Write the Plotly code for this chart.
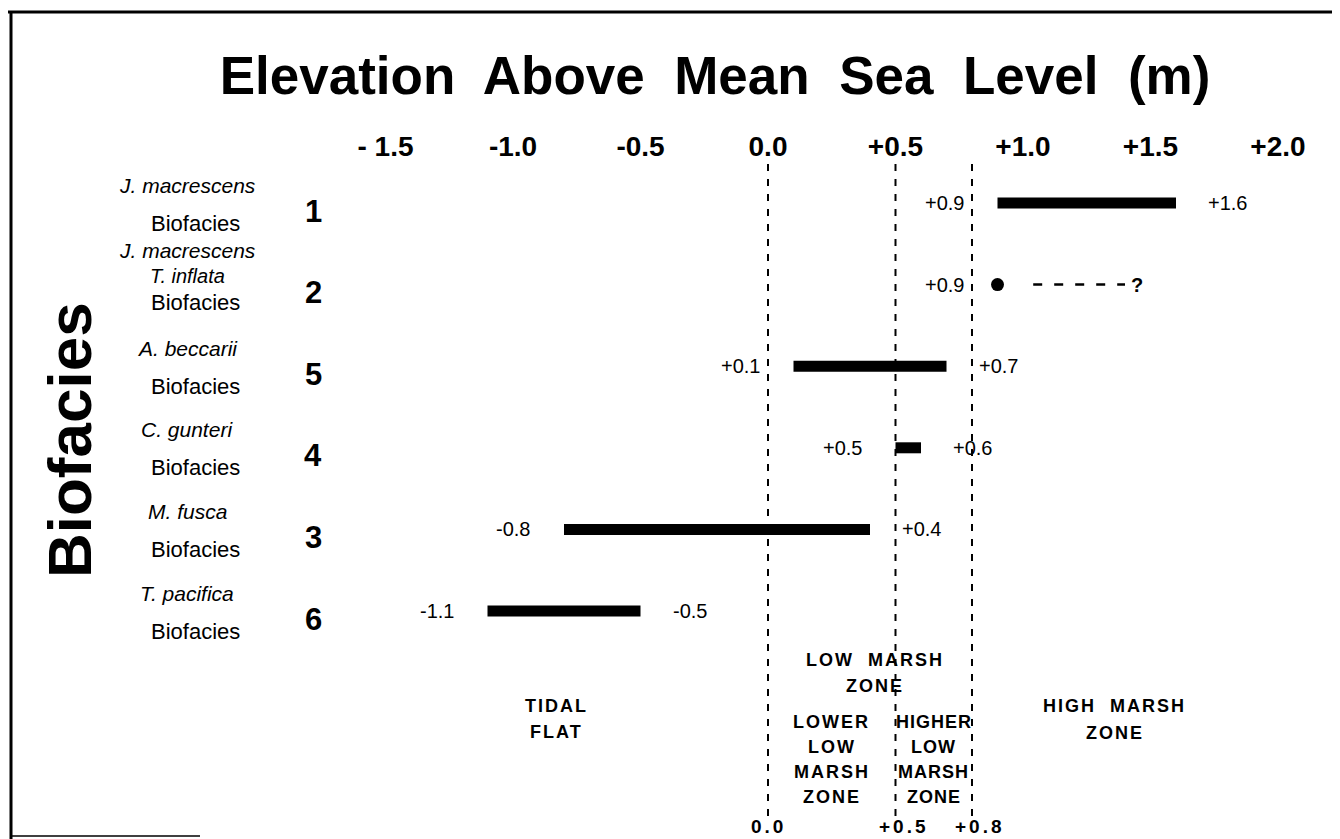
import plotly.graph_objects as go

# ---------------- data ----------------
row_numbers = ["1", "2", "5", "4", "3", "6"]
row_species = [["J. macrescens"], ["J. macrescens", "T. inflata"], ["A. beccarii"],
               ["C. gunteri"], ["M. fusca"], ["T. pacifica"]]
range_start = [0.9, 0.9, 0.1, 0.5, -0.8, -1.1]
range_end = [1.6, None, 0.7, 0.6, 0.4, -0.5]
start_labels = ["+0.9", "+0.9", "+0.1", "+0.5", "-0.8", "-1.1"]
end_labels = ["+1.6", "?", "+0.7", "+0.6", "+0.4", "-0.5"]
uncertain_extent = [1.04, 1.40]          # dashed "?" extension for biofacies 2

tick_vals = [-1.5, -1.0, -0.5, 0.0, 0.5, 1.0, 1.5, 2.0]
tick_text = ["- 1.5", "-1.0", "-0.5", "0.0", "+0.5", "+1.0", "+1.5", "+2.0"]

zone_bounds = [0.0, 0.5, 0.8]
zone_bound_labels = ["0.0", "+0.5", "+0.8"]

# ---------------- layout geometry (page pixels) ----------------
OFF = 8                      # default body margin of the html page
W, H = 1340 - OFF, 839 - OFF
L_PX, R_PX = 290, 1330
T_PX, B_PX = 165, 812
X0_PX, XSCALE = 768, 255.0
x_range = [(L_PX - X0_PX) / XSCALE, (R_PX - X0_PX) / XSCALE]
ROW0_PX, ROWSTEP = 203, 81.6
y_range = [(B_PX - ROW0_PX) / ROWSTEP, (T_PX - ROW0_PX) / ROWSTEP]


def px_x(px):
    return (px - L_PX) / (R_PX - L_PX)


def px_y(py):
    return (B_PX - py) / (B_PX - T_PX)


FONT = "Liberation Sans, Arial, Helvetica, sans-serif"
rows = list(range(len(row_numbers)))

fig = go.Figure()

# range bars
for k in rows:
    if range_end[k] is not None:
        fig.add_trace(go.Scatter(
            x=[range_start[k], range_end[k]], y=[k, k], mode="lines",
            line=dict(color="black", width=11), showlegend=False, hoverinfo="skip"))
    else:
        fig.add_trace(go.Scatter(
            x=[range_start[k]], y=[k], mode="markers",
            marker=dict(color="black", size=13), showlegend=False, hoverinfo="skip"))
        fig.add_trace(go.Scatter(
            x=uncertain_extent, y=[k, k], mode="lines",
            line=dict(color="black", width=2.5, dash="9px,12px"),
            showlegend=False, hoverinfo="skip"))

# zone boundary dashed lines
for b in zone_bounds:
    fig.add_shape(type="line", xref="x", yref="paper", x0=b, x1=b, y0=px_y(816), y1=px_y(164),
                  line=dict(color="black", width=2, dash="7px,8px"))

annotations = []
val_font = dict(family=FONT, size=20, color="black")
# value labels
for k in rows:
    annotations.append(dict(x=range_start[k], y=k, xref="x", yref="y", text=start_labels[k],
                            xanchor="right", yanchor="middle", xshift=-32, showarrow=False,
                            font=val_font))
    if range_end[k] is not None:
        annotations.append(dict(x=range_end[k], y=k, xref="x", yref="y", text=end_labels[k],
                                xanchor="left", yanchor="middle", xshift=30, showarrow=False,
                                font=val_font))
    else:
        annotations.append(dict(x=uncertain_extent[1], y=k, xref="x", yref="y",
                                text="<b>" + end_labels[k] + "</b>",
                                xanchor="left", yanchor="middle", xshift=4, showarrow=False,
                                font=val_font))

# row labels (species, "Biofacies", number)
for k in rows:
    names = row_species[k]
    if len(names) == 1:
        shifts, sizes, bio_shift = [18], [21], -20
    else:
        shifts, sizes, bio_shift = [34, 9], [21, 20], -18
    for nm, sh, sz in zip(names, shifts, sizes):
        annotations.append(dict(x=px_x(187), y=k, xref="paper", yref="y",
                                text="<i>" + nm + "</i>",
                                xanchor="center", yanchor="middle", yshift=sh,
                                showarrow=False, font=dict(family=FONT, size=sz, color="black")))
    annotations.append(dict(x=px_x(195), y=k, xref="paper", yref="y", text="Biofacies",
                            xanchor="center", yanchor="middle", yshift=bio_shift,
                            showarrow=False, font=dict(family=FONT, size=22, color="black")))
    annotations.append(dict(x=px_x(313), y=k, xref="paper", yref="y",
                            text="<b>" + row_numbers[k] + "</b>",
                            xanchor="center", yanchor="middle", yshift=-8, showarrow=False,
                            font=dict(family=FONT, size=31, color="black")))

# big vertical axis title
annotations.append(dict(x=px_x(69), y=px_y(440), xref="paper", yref="paper",
                        text="<b>Biofacies</b>", textangle=-90, showarrow=False,
                        xanchor="center", yanchor="middle",
                        font=dict(family=FONT, size=62, color="black")))


def spaced(t, sp=2):
    return '<b><span style="letter-spacing:%dpx">%s</span></b>' % (sp, t)


zone_font = dict(family=FONT, size=18, color="black")
zone_texts = [
    (0.42, 660, "LOW  MARSH", 2), (0.42, 686, "ZONE", 2),
    (-0.83, 706, "TIDAL", 2), (-0.83, 732, "FLAT", 2),
    (0.25, 722, "LOWER", 2), (0.25, 747, "LOW", 2), (0.25, 772, "MARSH", 2), (0.25, 797, "ZONE", 2),
    (0.65, 722, "HIGHER", 1), (0.65, 747, "LOW", 1), (0.65, 772, "MARSH", 1), (0.65, 797, "ZONE", 1),
    (1.36, 706, "HIGH  MARSH", 2), (1.36, 733, "ZONE", 2),
]
for xv, py, t, sp in zone_texts:
    annotations.append(dict(x=xv, y=px_y(py), xref="x", yref="paper", text=spaced(t, sp),
                            xanchor="center", yanchor="middle", showarrow=False, font=zone_font))
for b, t in zip(zone_bounds, zone_bound_labels):
    annotations.append(dict(x=b, y=px_y(826), xref="x", yref="paper", text=spaced(t, 3),
                            xanchor="center", yanchor="middle", showarrow=False,
                            xshift=(8 if t.startswith("+") else 0),
                            font=dict(family=FONT, size=19, color="black")))

fig.update_layout(annotations=annotations)

# frame lines (scan border)
fig.add_shape(type="line", xref="paper", yref="paper", x0=px_x(OFF), x1=px_x(1340),
              y0=px_y(12), y1=px_y(12), line=dict(color="black", width=3))
fig.add_shape(type="line", xref="paper", yref="paper", x0=px_x(11), x1=px_x(11),
              y0=px_y(12), y1=px_y(839), line=dict(color="black", width=3))
fig.add_shape(type="line", xref="paper", yref="paper", x0=px_x(11), x1=px_x(200),
              y0=px_y(836), y1=px_y(836), line=dict(color="black", width=1.5))

fig.update_layout(
    width=W, height=H,
    margin=dict(l=L_PX - OFF, r=W - (R_PX - OFF), t=T_PX - OFF, b=H - (B_PX - OFF), pad=0),
    paper_bgcolor="white", plot_bgcolor="white",
    title=dict(text="<b>Elevation  Above  Mean  Sea  Level  (m)</b>",
               x=(715 - OFF) / W, y=1 - (75 - OFF) / H, xanchor="center", yanchor="middle",
               font=dict(family=FONT, size=53, color="black")),
    xaxis=dict(range=x_range, side="top", tickvals=tick_vals,
               ticktext=["<b>" + t + "</b>" for t in tick_text],
               showgrid=False, zeroline=False, showline=False, ticks="",
               tickfont=dict(family=FONT, size=28, color="black"),
               ticklabelstandoff=2, fixedrange=True),
    yaxis=dict(range=y_range, showgrid=False, zeroline=False, showline=False,
               showticklabels=False, ticks="", fixedrange=True),
    showlegend=False,
)

fig.write_html("out.html")
